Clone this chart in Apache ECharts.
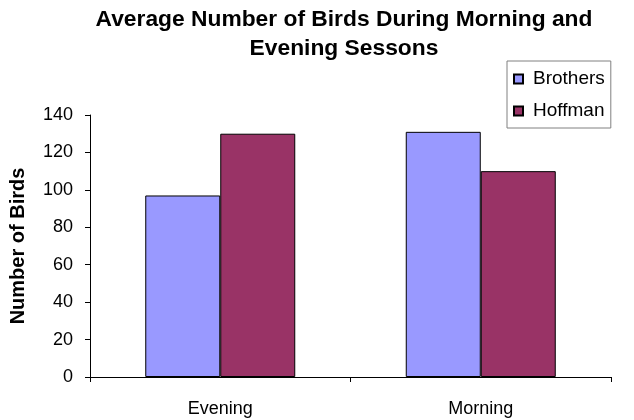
<!DOCTYPE html>
<html>
<head>
<meta charset="utf-8">
<script src="https://cdn.jsdelivr.net/npm/echarts@6/dist/echarts.min.js"></script>
<style>
  html, body { margin: 0; padding: 0; background: #fff; }
  #chart { width: 634px; height: 420px; }
</style>
</head>
<body>
<div id="chart"></div>
<script>
const categories = ["Evening", "Morning"];
const brothers = [97, 131];
const hoffman = [130, 110];
const seriesNames = ["Brothers", "Hoffman"];

const font = "'Liberation Sans', Arial, sans-serif";
const chart = echarts.init(document.getElementById("chart"));

const option = {
  backgroundColor: "#fff",
  animation: false,
  textStyle: { fontFamily: font, color: "#000" },
  title: {
    text: "Average Number of Birds During Morning and\nEvening Sessons",
    left: 339,
    textAlign: "center",
    top: 0,
    textStyle: {
      fontFamily: font,
      fontWeight: "bold",
      fontSize: 22.8,
      lineHeight: 29,
      color: "#000",
    },
  },
  legend: {
    data: seriesNames,
    orient: "vertical",
    left: 507,
    top: 61,
    padding: [8, 6, 7, 6],
    itemGap: 12,
    itemWidth: 9,
    itemHeight: 9,
    icon: "rect",
    borderColor: "#808080",
    borderWidth: 1,
    textStyle: {
      fontFamily: font,
      fontSize: 19,
      lineHeight: 20,
      color: "#000",
      padding: [0, 0, 0, 5],
    },
  },
  grid: {
    left: 89,
    right: 23,
    top: 115,
    bottom: 43,
    containLabel: false,
  },
  xAxis: {
    type: "category",
    data: categories,
    axisLine: { lineStyle: { color: "#000", width: 1 } },
    axisTick: { show: true, length: 5, lineStyle: { color: "#000" } },
    axisLabel: { fontFamily: font, fontSize: 18, color: "#000", margin: 23 },
  },
  yAxis: {
    type: "value",
    min: 0,
    max: 140,
    interval: 20,
    name: "Number of Birds",
    nameLocation: "middle",
    nameRotate: 90,
    nameGap: 62,
    nameTextStyle: { fontFamily: font, fontWeight: "bold", fontSize: 20, color: "#000" },
    axisLine: { show: true, lineStyle: { color: "#000", width: 1 } },
    axisTick: { show: true, length: 5, lineStyle: { color: "#000" } },
    axisLabel: { fontFamily: font, fontSize: 18, color: "#000", margin: 17 },
    splitLine: { show: false },
  },
  series: [
    {
      name: seriesNames[0],
      type: "bar",
      data: brothers,
      barWidth: 75,
      barGap: "0%",
      itemStyle: { color: "#9999FF", borderColor: "#000", borderWidth: 1 },
    },
    {
      name: seriesNames[1],
      type: "bar",
      data: hoffman,
      barWidth: 75,
      barGap: "0%",
      itemStyle: { color: "#993366", borderColor: "#000", borderWidth: 1 },
    },
  ],
};

chart.setOption(option);
</script>
</body>
</html>
